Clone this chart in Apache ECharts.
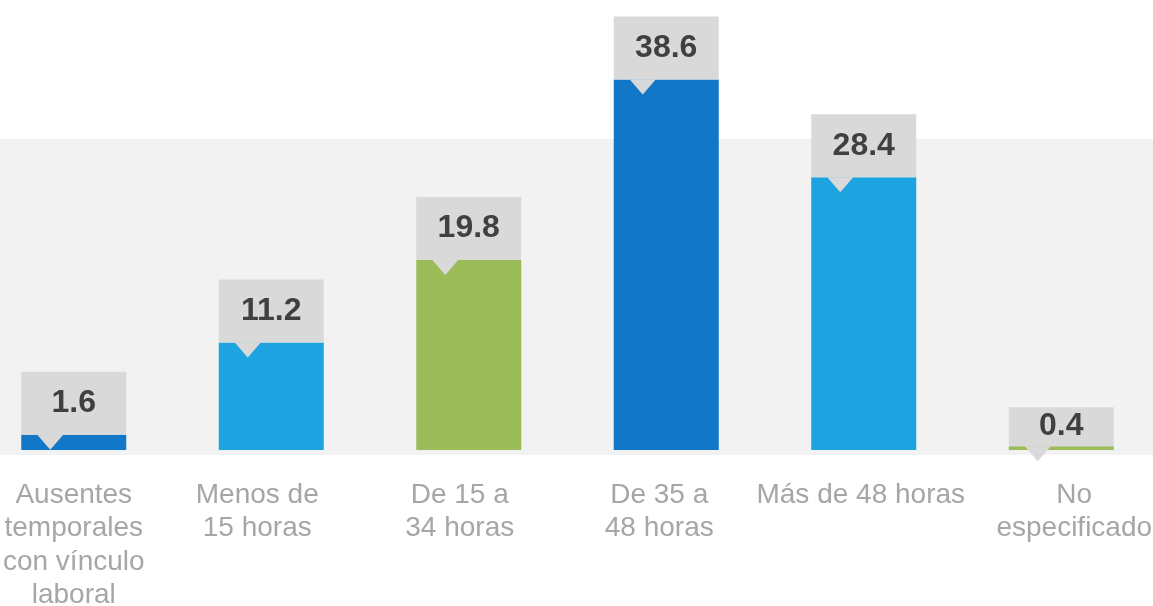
<!DOCTYPE html>
<html>
<head>
<meta charset="utf-8">
<script src="https://cdn.jsdelivr.net/npm/echarts@6/dist/echarts.min.js"></script>
<style>
  html, body { margin: 0; padding: 0; background: #fff; }
  #chart { width: 1153px; height: 606px; }
</style>
</head>
<body>
<div id="chart"></div>
<script>
const categories = [
  "Ausentes\ntemporales\ncon vínculo\nlaboral",
  "Menos de\n15 horas",
  "De 15 a\n34 horas",
  "De 35 a\n48 horas",
  "Más de 48 horas",
  "No\nespecificado"
];
const values = [1.6, 11.2, 19.8, 38.6, 28.4, 0.4];
const barColors = ["#1177c8", "#1ca3e0", "#9bbb59", "#1177c8", "#1ca3e0", "#9bbb59"];

// small horizontal nudges of the category labels (px, + = right)
const labelShift = [0, -14, -9, -7, -3, 13];

const chart = echarts.init(document.getElementById("chart"));

const barWidth = 105;

chart.setOption({
  animation: false,
  grid: {
    left: -25,
    right: -7,
    top: 18,
    bottom: 156,
    containLabel: false,
    outerBoundsMode: "none"
  },
  graphic: [
    {
      type: "rect",
      z: -10,
      silent: true,
      shape: { x: 0, y: 139, width: 1153, height: 316 },
      style: { fill: "#f2f2f2" }
    }
  ],
  xAxis: {
    type: "category",
    data: categories.map((c, i) => {
      const s = labelShift[i];
      return {
        value: c,
        textStyle: {
          padding: s < 0 ? [0, -2 * s, 0, 0] : [0, 0, 0, 2 * s]
        }
      };
    }),
    axisLine: { show: false },
    axisTick: { show: false },
    axisLabel: {
      interval: 0,
      color: "#a6a6a6",
      fontSize: 28,
      lineHeight: 33.6,
      fontFamily: "Liberation Sans, Arial, sans-serif",
      margin: 28
    }
  },
  yAxis: {
    type: "value",
    min: 0,
    max: 45,
    show: false,
    splitLine: { show: false }
  },
  series: [
    {
      type: "bar",
      barWidth: barWidth,
      z: 2,
      data: values.map((v, i) => {
        const item = { value: v, itemStyle: { color: barColors[i] } };
        if (v < 1) {
          item.label = { height: 39, lineHeight: 39 };
        }
        return item;
      }),
      label: {
        show: true,
        position: "top",
        distance: 0,
        width: barWidth,
        height: 63,
        lineHeight: 63,
        align: "center",
        backgroundColor: "#d9d9d9",
        color: "#404040",
        fontSize: 32,
        fontWeight: "bold",
        fontFamily: "Liberation Sans, Arial, sans-serif",
        formatter: (p) => p.value.toFixed(1)
      }
    },
    {
      // pointer triangles under the value boxes
      type: "custom",
      z: 5,
      silent: true,
      data: values.map((v, i) => [i, v]),
      renderItem: (params, api) => {
        const pt = api.coord([api.value(0), api.value(1)]);
        const left = pt[0] - barWidth / 2;
        const top = pt[1];
        return {
          type: "polygon",
          shape: {
            points: [
              [left + 16, top],
              [left + 42, top],
              [left + 29, top + 15]
            ]
          },
          style: { fill: "#d9d9d9" }
        };
      }
    }
  ]
});
</script>
</body>
</html>
